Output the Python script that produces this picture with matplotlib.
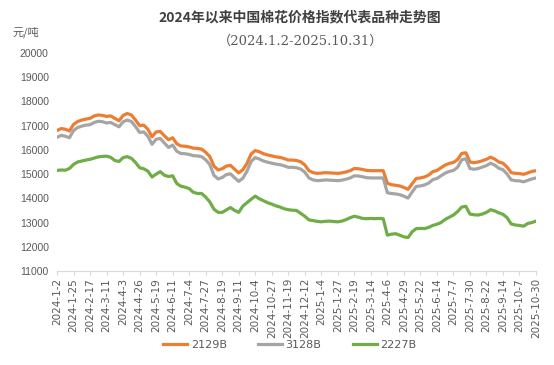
import matplotlib.pyplot as plt
import numpy as np

# rotulos do eixo x (um a cada ~16 pregoes)
datas = ['2024-1-2', '2024-1-25', '2024-2-17', '2024-3-11', '2024-4-3', '2024-4-26',
         '2024-5-19', '2024-6-11', '2024-7-4', '2024-7-27', '2024-8-19', '2024-9-11',
         '2024-10-4', '2024-10-27', '2024-11-19', '2024-12-12', '2025-1-4', '2025-1-27',
         '2025-2-19', '2025-3-14', '2025-4-6', '2025-4-29', '2025-5-22', '2025-6-14',
         '2025-7-7', '2025-7-30', '2025-8-22', '2025-9-14', '2025-10-7', '2025-10-30']

# valores, 4 amostras por intervalo de rotulo
p2129 = [16800, 16880, 16850, 16780, 17050, 17170, 17230, 17270, 17300, 17400,
         17440, 17420, 17380, 17400, 17300, 17200, 17420, 17500, 17440, 17230,
         17000, 17020, 16850, 16540, 16740, 16760, 16580, 16420, 16500, 16250,
         16160, 16150, 16120, 16070, 16060, 16030, 15900, 15720, 15330, 15170,
         15220, 15330, 15360, 15200, 15050, 15180, 15440, 15830, 15970, 15920,
         15840, 15790, 15750, 15710, 15690, 15640, 15580, 15580, 15560, 15510,
         15380, 15140, 15060, 15030, 15040, 15060, 15050, 15040, 15030, 15050,
         15090, 15140, 15230, 15220, 15190, 15150, 15140, 15140, 15140, 15140,
         14620, 14560, 14540, 14510, 14450, 14370, 14600, 14820, 14840, 14880,
         14960, 15100, 15150, 15260, 15370, 15440, 15480, 15600, 15850, 15880,
         15500, 15470, 15500, 15550, 15610, 15700, 15620, 15500, 15450, 15290,
         15060, 15030, 15020, 14990, 15050, 15110, 15140]

p3128 = [16520, 16600, 16560, 16500, 16800, 16920, 16980, 17020, 17040, 17130,
         17180, 17160, 17110, 17130, 17040, 16950, 17160, 17230, 17170, 16960,
         16720, 16740, 16560, 16230, 16440, 16470, 16280, 16100, 16200, 15940,
         15850, 15840, 15810, 15760, 15750, 15720, 15590, 15390, 14950, 14800,
         14860, 14980, 15010, 14850, 14700, 14830, 15120, 15520, 15680, 15620,
         15540, 15490, 15450, 15410, 15390, 15340, 15280, 15280, 15260, 15210,
         15080, 14840, 14760, 14730, 14740, 14760, 14750, 14740, 14730, 14750,
         14790, 14840, 14930, 14920, 14890, 14850, 14840, 14840, 14840, 14840,
         14230, 14200, 14180, 14150, 14090, 14010, 14260, 14490, 14510, 14550,
         14630, 14770, 14820, 14930, 15040, 15110, 15150, 15280, 15590, 15630,
         15230, 15200, 15230, 15290, 15350, 15450, 15370, 15240, 15180, 15000,
         14760, 14730, 14720, 14680, 14740, 14800, 14840]

p2227 = [15150, 15170, 15160, 15230, 15400, 15500, 15540, 15580, 15610, 15660,
         15710, 15730, 15740, 15690, 15560, 15520, 15680, 15720, 15650, 15480,
         15260, 15220, 15120, 14880, 15000, 15100, 14950, 14900, 14930, 14610,
         14500, 14460, 14400, 14250, 14200, 14200, 14050, 13850, 13550, 13420,
         13420, 13520, 13620, 13500, 13420, 13680, 13820, 13960, 14090, 13980,
         13900, 13820, 13760, 13690, 13640, 13570, 13530, 13510, 13500, 13380,
         13260, 13110, 13080, 13050, 13030, 13050, 13060, 13040, 13030, 13060,
         13120, 13200, 13260, 13220, 13170, 13160, 13170, 13160, 13170, 13160,
         12480, 12520, 12540, 12480, 12410, 12380, 12620, 12750, 12760, 12750,
         12800, 12880, 12930, 13000, 13130, 13220, 13310, 13450, 13640, 13670,
         13350, 13320, 13310, 13350, 13420, 13530, 13480, 13400, 13340, 13200,
         12940, 12900, 12880, 12850, 12960, 13000, 13060]

series = ['2129B', '3128B', '2227B']
cores = ['#ED7D31', '#A5A5A5', '#70AD47']
yticks = list(range(11000, 20001, 1000))

cinza = '#595959'

fig = plt.figure(figsize=(5.54, 3.65), dpi=100)
ax = fig.add_axes([0.103, 0.2575, 0.8645, 0.5975])

x = np.arange(len(p2129)) / 4
for valores, nome, cor in zip([p2129, p3128, p2227], series, cores):
    ax.plot(x, valores, color=cor, lw=2.3, label=nome, solid_joinstyle='round')

ax.set_xlim(0, len(datas) - 1)
ax.set_ylim(11000, 20000)
ax.set_yticks(yticks)
ax.set_yticklabels([str(v) for v in yticks], fontsize=7.5, color=cinza, family='Liberation Sans')
ax.set_xticks(range(len(datas)))
ax.set_xticklabels(datas, rotation=90, fontsize=7.5, color=cinza, family='DejaVu Sans')
ax.tick_params(axis='y', length=0, pad=6)
ax.tick_params(axis='x', length=3, color='#D9D9D9', pad=2)

for lado in ['top', 'right', 'left']:
    ax.spines[lado].set_visible(False)
ax.spines['bottom'].set_color('#D9D9D9')

fig.text(0.542, 0.952, '2024年以来中国棉花价格指数代表品种走势图', ha='center', va='center',
         fontsize=10, fontweight='bold', color='#404040', family=['Noto Sans CJK SC', 'DejaVu Sans'])
fig.text(0.542, 0.887, '（2024.1.2-2025.10.31）', ha='center', va='center',
         fontsize=9.5, color=cinza, family=['DejaVu Serif', 'Noto Sans CJK SC'])
fig.text(0.022, 0.912, '元/吨', ha='left', va='center', fontsize=8, color=cinza,
         family=['Noto Sans CJK SC', 'DejaVu Sans'])

leg = fig.legend(loc='center', bbox_to_anchor=(0.523, 0.055), ncol=3, frameon=False,
                 fontsize=8, handlelength=2.2, handletextpad=0.3, columnspacing=2.8)
for t in leg.get_texts():
    t.set_color(cinza)

fig.savefig('out.png', dpi=100)
